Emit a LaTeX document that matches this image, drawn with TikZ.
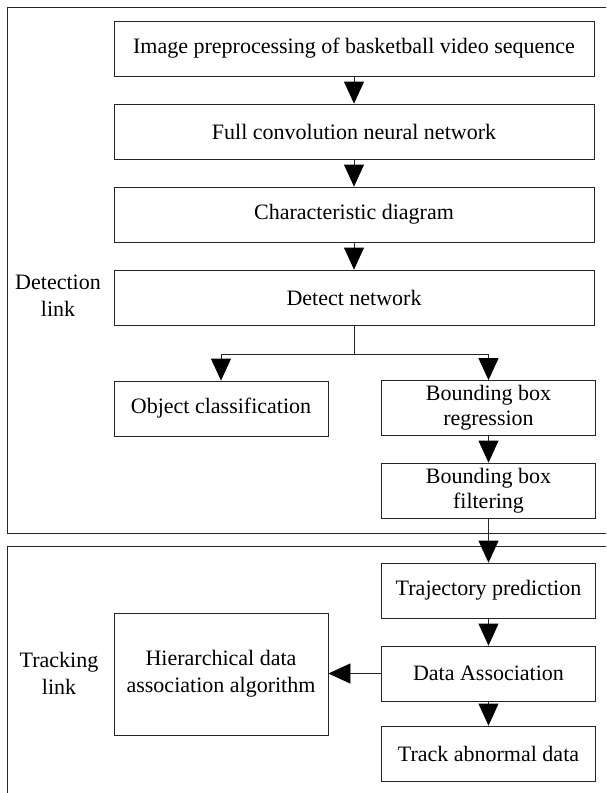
\documentclass[tikz,border=0pt]{standalone}
\usepackage{fontspec}
\setmainfont{Liberation Serif}
\usetikzlibrary{arrows.meta}
\begin{document}
\begin{tikzpicture}[x=1pt,y=-1pt,
  box/.style={draw=black!85, line width=0.8pt, minimum height=55pt, align=center, inner sep=2pt, font=\fontsize{22}{25}\selectfont},
  wide/.style={box, minimum width=480pt},
  narrow/.style={box, minimum width=214pt},
  lbl/.style={font=\fontsize{22}{27}\selectfont, inner sep=0pt, align=center},
  frame/.style={draw=black!85, line width=0.8pt},
  arr/.style={draw=black!85, line width=0.8pt, -{Triangle[width=20pt,length=22pt,fill=black,color=black]}},
  ln/.style={draw=black!85, line width=0.8pt}]
\useasboundingbox (0,0) rectangle (606,793);
\clip (0,0) rectangle (606,793);
\fill[white] (0,0) rectangle (606,793);
% frames
\draw[frame] (7,7) rectangle (650,533);
\draw[frame] (7,546) rectangle (650,820);
% detection part
\node[wide] (b1) at (354,48.5) {Image preprocessing of basketball video sequence};
\node[wide] (b2) at (354,131.5) {Full convolution neural network};
\node[wide] (b3) at (354,214.5) {Characteristic diagram};
\node[wide] (b4) at (354,297.5) {Detect network};
\node[narrow] (oc) at (221,408.5) {Object classification};
\node[narrow] (bbr) at (488.5,408) {Bounding box\\regression};
\node[narrow] (bbf) at (488.5,490.5) {Bounding box\\filtering};
\node[lbl] (dl) at (58,296) {Detection\\link};
% tracking part
\node[narrow] (tp) at (488.5,590.5) {Trajectory prediction};
\node[narrow] (da) at (488.5,673.5) {Data Association};
\node[narrow] (tad) at (488.5,753.5) {Track abnormal data};
\node[narrow, minimum height=122pt, font=\fontsize{22}{27}\selectfont] (hd) at (221,674) {Hierarchical data\\association algorithm};
\node[lbl] (tl) at (59,673) {Tracking\\link};
% connectors
\draw[arr] (b1) -- (b2);
\draw[arr] (b2) -- (b3);
\draw[arr] (b3) -- (b4);
\coordinate (j) at (354,354);
\draw[ln] (b4.south) -- (j);
\draw[arr] (j) -| (oc.north);
\draw[arr] (j) -| (bbr.north);
\draw[arr] (bbr) -- (bbf);
\draw[arr] (bbf) -- (tp);
\draw[arr] (tp) -- (da);
\draw[arr] (da) -- (tad);
\draw[arr] (da.west) -- (hd.east |- da.west);
\end{tikzpicture}
\end{document}
